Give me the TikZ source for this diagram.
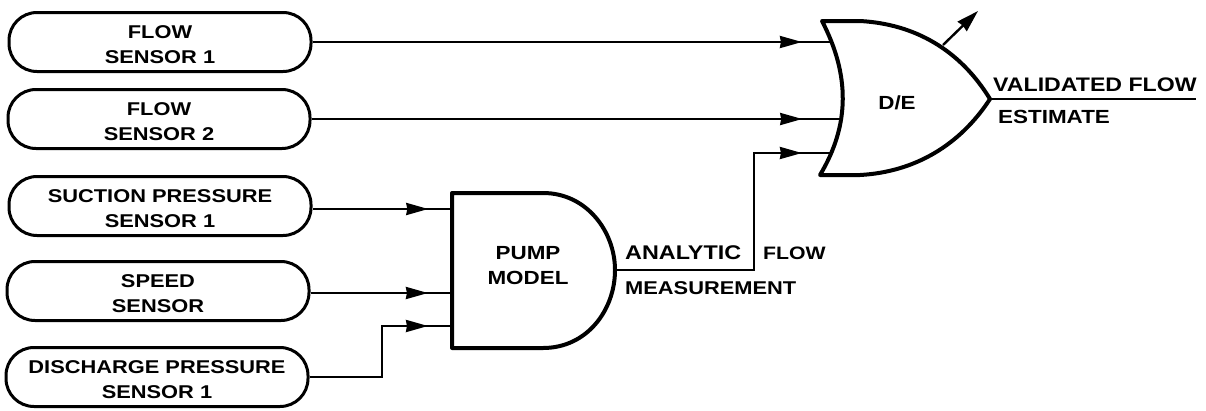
\documentclass[tikz,border=0pt]{standalone}
\usepackage{fontspec}
\setmainfont[FakeStretch=1.18]{Liberation Sans}
\usetikzlibrary{arrows.meta,decorations.markings}
\newcommand{\toprow}{\rule{0pt}{18pt}}
\tikzset{
    sensor/.style={draw,line width=3pt,rounded corners=28pt,minimum width=302pt,minimum height=59pt,inner sep=0pt,align=center,font=\fontsize{18.5}{25}\selectfont\bfseries},
    lbl/.style={inner sep=0pt,align=center,font=\fontsize{#1}{25}\selectfont\bfseries},
    lbl/.default=19,
    gate/.style={line width=4pt,line join=round},
    wire/.style={line width=2.4pt},
    tipat/.style={wire,postaction={decorate},decoration={markings,mark=at position #1 with {\arrow{Stealth[length=22pt,width=12pt,inset=1pt]}}}}
}
\begin{document}
\begin{tikzpicture}[x=1pt,y=-1pt]
\useasboundingbox (0,0) rectangle (1206,410);

% sensors
\node[sensor] (flowa) at (160,42) {\toprow FLOW\\SENSOR 1};
\node[sensor] (flowb) at (159,119) {\toprow FLOW\\SENSOR 2};
\node[sensor] (suction) at (160,206) {\toprow SUCTION PRESSURE\\SENSOR 1};
\node[sensor] (speed) at (158,291) {\toprow SPEED\\SENSOR};
\node[sensor] (discharge) at (157,377) {\toprow DISCHARGE PRESSURE\\SENSOR 1};

% pump model
\draw[gate] (452,193) -- (543,193) .. controls (587,193) and (615,232) .. (615,270)
    .. controls (615,310) and (587,348) .. (543,348) -- (452,348) -- cycle;
\node[lbl] (pump) at (528,266) {PUMP\\MODEL};

% decision element
\draw[gate] (822,21) -- (860,21) .. controls (915,24) and (960,50) .. (990,99)
    .. controls (960,145) and (915,172) .. (860,175) -- (820,175)
    .. controls (850,125) and (850,75) .. (822,21) -- cycle;
\node[lbl] (de) at (897,103) {D/E};

\coordinate (ina) at (831,42);
\coordinate (inb) at (842,119);
\coordinate (inc) at (832,153);
\coordinate (pumpa) at (452,209);
\coordinate (pumpb) at (452,293);
\coordinate (pumpc) at (452,326);
\coordinate (pumpout) at (615,270);
\coordinate (riser) at (754,153);
\coordinate (elbow) at (382,326);
\coordinate (tipout) at (990,99);
\coordinate (lineend) at (1196,99);
\coordinate (adjbase) at (943,45);
\coordinate (adjend) at (978,11);

\draw[tipat=0.944] (flowa.east) -- (ina);
\draw[tipat=0.925] (flowb.east) -- (inb);
\draw[tipat=0.91] (pumpout) -| (riser) -- (inc);
\draw[tipat=0.83] (suction.east |- pumpa) -- (pumpa);
\draw[tipat=0.83] (speed.east |- pumpb) -- (pumpb);
\draw[tipat=0.876] (discharge.east) -| (elbow) -- (pumpc);
\draw[line width=2.4pt,-{Stealth[length=22pt,width=13pt,inset=1pt]}] (adjbase) -- (adjend);
\draw[wire] (tipout) -- (lineend);

% labels
\node[lbl=19.6,anchor=west] (valid) at (993,85) {VALIDATED FLOW};
\node[lbl,anchor=west] (estim) at (998,117) {ESTIMATE};
\node[lbl=19.8,anchor=west] (analytic) at (625,253) {ANALYTIC};
\node[lbl=18,anchor=west] (flow) at (763,253) {FLOW};
\node[lbl=18.5,anchor=west] (meas) at (625,288) {MEASUREMENT};

\end{tikzpicture}
\end{document}
